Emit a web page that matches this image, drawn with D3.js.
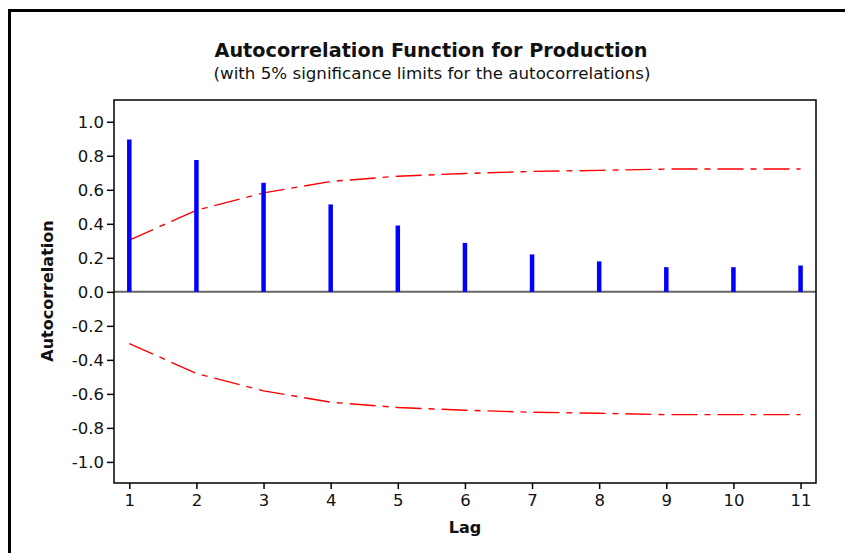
<!DOCTYPE html>
<html>
<head>
<meta charset="utf-8">
<script src="https://cdn.jsdelivr.net/npm/d3@7"></script>
<style>
  body { margin: 0; background: #fff; }
  text { font-family: "DejaVu Sans", Verdana, sans-serif; fill: #111; }
</style>
</head>
<body>
<svg id="chart" width="845" height="553"></svg>
<script>
// data
const lags = [1, 2, 3, 4, 5, 6, 7, 8, 9, 10, 11];
const acf = [0.896, 0.775, 0.641, 0.514, 0.39, 0.288, 0.22, 0.179, 0.145, 0.145, 0.155];
const upperLimit = [0.304, 0.48, 0.582, 0.649, 0.68, 0.696, 0.708, 0.714, 0.722, 0.722, 0.722];
const lowerLimit = upperLimit.map(v => -v);
const yTicks = [1.0, 0.8, 0.6, 0.4, 0.2, 0.0, -0.2, -0.4, -0.6, -0.8, -1.0];

const svg = d3.select('#chart');
const margin = {left: 114, top: 100, right: 845 - 816, bottom: 553 - 483};
const W = 845, H = 553;
const w = W - margin.left - margin.right, h = H - margin.top - margin.bottom;

// outer border (top and left only)
svg.append('path')
    .attr('d', `M9.5,${H} V10.5 H${W}`)
    .attr('fill', 'none').attr('stroke', '#000').attr('stroke-width', 3);

const scaleX = d3.scaleLinear().domain([0.772, 11.23]).range([0, w]);
const scaleY = d3.scaleLinear().domain([-1.124, 1.128]).range([h, 0]);

const g = svg.append('g').attr('transform', `translate(${margin.left},${margin.top})`);

// titles
svg.append('text')
    .attr('x', 431).attr('y', 57)
    .attr('text-anchor', 'middle')
    .attr('font-size', 20).attr('font-weight', 'bold')
    .attr('textLength', 433).attr('lengthAdjust', 'spacingAndGlyphs')
    .text('Autocorrelation Function for Production');
svg.append('text')
    .attr('x', 432).attr('y', 79)
    .attr('text-anchor', 'middle')
    .attr('font-size', 16)
    .attr('textLength', 437).attr('lengthAdjust', 'spacingAndGlyphs')
    .text('(with 5% significance limits for the autocorrelations)');

// axes
const yAxis = g.append('g')
    .call(d3.axisLeft(scaleY).tickValues(yTicks).tickFormat(d => d.toFixed(1)).tickSize(7).tickPadding(3));
const xAxis = g.append('g')
    .attr('transform', `translate(0,${h})`)
    .call(d3.axisBottom(scaleX).tickValues(lags).tickFormat(d => String(d)).tickSize(6).tickPadding(4));
[yAxis, xAxis].forEach(a => {
    a.select('.domain').remove();
    a.selectAll('line').attr('stroke', '#000').attr('stroke-width', 1.5);
    a.selectAll('text').attr('font-size', 16.5).attr('fill', '#111')
        .style('font-family', '"DejaVu Sans", Verdana, sans-serif');
});
yAxis.selectAll('text').attr('dy', '0.36em');
xAxis.selectAll('text').attr('dy', '0.8em');

// zero line
g.append('line')
    .attr('x1', 0).attr('x2', w)
    .attr('y1', scaleY(0)).attr('y2', scaleY(0))
    .attr('stroke', '#666').attr('stroke-width', 2);

// significance limits
const line = d3.line().x((d, i) => scaleX(lags[i])).y(d => scaleY(d));
[upperLimit, lowerLimit].forEach(arr => {
    g.append('path')
        .attr('d', line(arr))
        .attr('fill', 'none')
        .attr('stroke', '#ff0000')
        .attr('stroke-width', 1.4)
        .attr('stroke-dasharray', '26 7 6 7');
});

// acf bars
g.selectAll('line.acfBar')
    .data(acf)
    .join('line')
    .attr('class', 'acfBar')
    .attr('x1', (d, i) => scaleX(lags[i]))
    .attr('x2', (d, i) => scaleX(lags[i]))
    .attr('y1', scaleY(0))
    .attr('y2', d => scaleY(d))
    .attr('stroke', '#0000ff')
    .attr('stroke-width', 4.5);

// plot frame
g.append('rect')
    .attr('width', w).attr('height', h)
    .attr('fill', 'none').attr('stroke', '#000').attr('stroke-width', 1.5);

// axis labels
svg.append('text')
    .attr('x', 465).attr('y', 533)
    .attr('text-anchor', 'middle')
    .attr('font-size', 16).attr('font-weight', 'bold')
    .text('Lag');
svg.append('text')
    .attr('transform', 'translate(53,291) rotate(-90)')
    .attr('text-anchor', 'middle')
    .attr('font-size', 16).attr('font-weight', 'bold')
    .text('Autocorrelation');
</script>
</body>
</html>
